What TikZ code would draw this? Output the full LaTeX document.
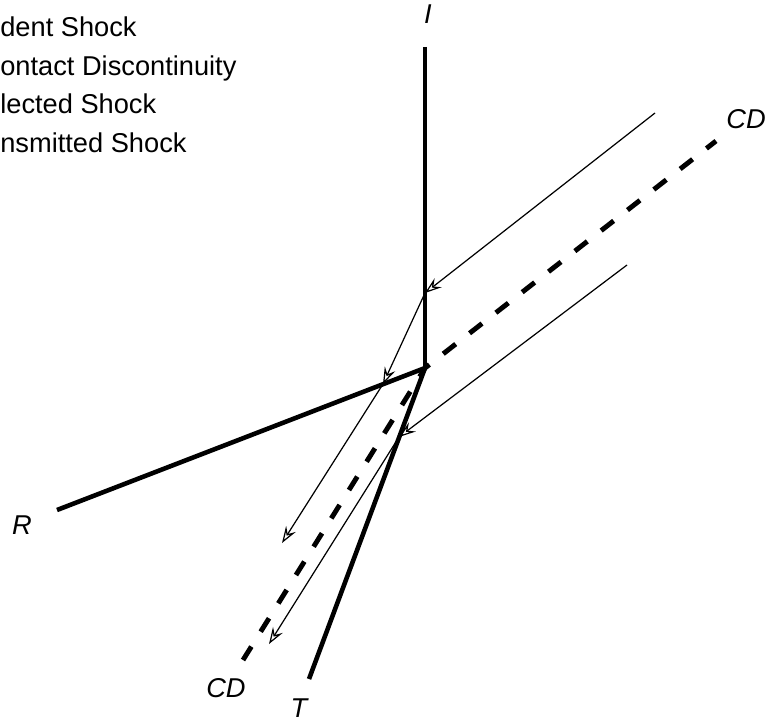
\documentclass[tikz,border=0pt]{standalone}
\usepackage{fontspec}
\setmainfont{Liberation Sans}
\usetikzlibrary{arrows.meta}

\begin{document}
\begin{tikzpicture}[
    x=0.02cm, y=-0.02cm,
    shock/.style={line width=2.6pt},
    contact/.style={line width=2.8pt, dash pattern=on 9pt off 10pt},
    ray/.style={line width=0.7pt, -{Stealth[open, length=9.5pt, width=6.5pt, inset=3.5pt]}},
    lbl/.style={font=\fontsize{15.5}{18}\selectfont\itshape, inner sep=0pt, anchor=base},
    legend/.style={font=\fontsize{15.5}{18}\selectfont, inner sep=0pt, anchor=base west},
]
    \useasboundingbox (0,0) rectangle (766,723);

    % legend, cut at the left edge
    \node[legend] (legI) at (0,37) {dent Shock};
    \node[legend] (legCD) at (0,75) {ontact Discontinuity};
    \node[legend] (legR) at (0,113) {lected Shock};
    \node[legend] (legT) at (0,152) {nsmitted Shock};

    % waves meeting at P
    \coordinate (P) at (425,368);
    \coordinate (Itop) at (425,47);
    \coordinate (Rend) at (57,510);
    \coordinate (Tend) at (309,679);
    \coordinate (CDtop) at (716,141);
    \coordinate (CDbot) at (243,660);

    \draw[shock] (Itop) -- (P);
    \draw[shock] (P) -- (Rend);
    \draw[shock] (P) -- (Tend);
    \draw[contact] (CDbot) -- (P) -- (CDtop);

    % rays
    \coordinate (A1) at (655,113);
    \coordinate (B1) at (425,293);
    \coordinate (C1) at (383,384);
    \coordinate (D1) at (282,543);
    \coordinate (A2) at (627,265);
    \coordinate (B2) at (399,437);
    \coordinate (D2) at (269,644);

    \draw[ray] (A1) -- (B1);
    \draw[ray] (B1) -- (C1);
    \draw[ray] (C1) -- (D1);
    \draw[ray] (A2) -- (B2);
    \draw[ray] (B2) -- (D2);

    % labels
    \node[lbl] (labI) at (428,24) {I};
    \node[lbl] (labCDtop) at (746,128) {CD};
    \node[lbl] (labCDbot) at (226,697) {CD};
    \node[lbl] (labR) at (22,534) {R};
    \node[lbl] (labT) at (299,717) {T};
\end{tikzpicture}
\end{document}
